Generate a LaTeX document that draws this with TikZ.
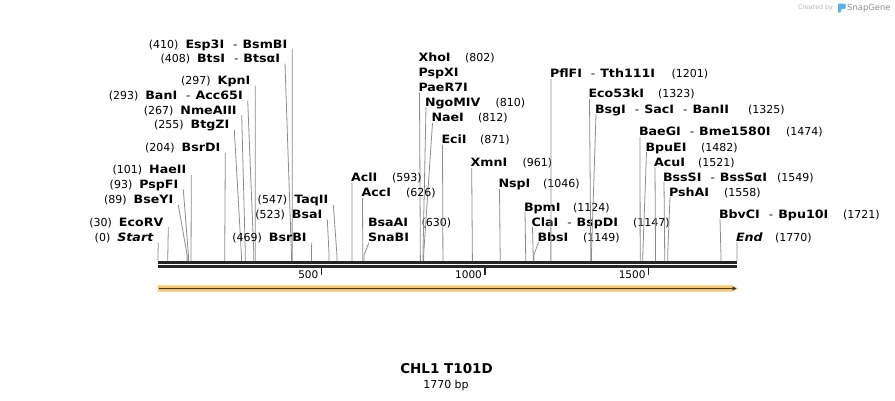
\documentclass[tikz,border=0pt]{standalone}
\usepackage{fontspec}
\setmainfont{DejaVu Sans}
\newfontfamily\nmfont{DejaVu Sans}[FakeStretch=1.1]
\usetikzlibrary{arrows.meta}
\definecolor{cutgrey}{HTML}{8C8C8C}
\definecolor{barblack}{HTML}{262626}
\definecolor{bandorange}{HTML}{FAC56B}
\definecolor{arrowdark}{HTML}{3A3834}
\definecolor{logogrey}{HTML}{B4B4B4}
\definecolor{logogreyb}{HTML}{8E8E8E}
\definecolor{logoblue}{HTML}{55B4E8}
\newcommand\sepx{\hspace{9pt}{\mdseries\fontsize{11}{13}\selectfont -}\hspace{5pt}}
\newcommand\cutline[4]{%
  \coordinate (#1-t) at (#2,#3);
  \coordinate (#1-k) at ({158+#4*0.327119},255);
  \coordinate (#1-s) at ({158+#4*0.327119},261);
  \draw[cut] (#1-t) -- (#1-k) -- (#1-s);}
% left label: id, line x, y centre, name, position
\newcommand\labL[5]{%
  \node[nm, anchor=base east] (#1) at (#2-5,#3+4.3) {#4};
  \node[num, anchor=base east] (#1-n) at ([xshift=-7pt]#1.base west) {(#5)};
  \cutline{#1}{#2}{#3+5.5}{#5}}
% right label: id, line x, y centre, name, number x, position
\newcommand\labR[6]{%
  \node[nm, anchor=base west] (#1) at (#2-1,#3+4.3) {#4};
  \node[num, anchor=base west] (#1-n) at (#5,#3+4.3) {(#6)};
  \cutline{#1}{#2}{#3+5.5}{#6}}
\begin{document}
\begin{tikzpicture}[x=1pt,y=-1pt,
  num/.style={font=\fontsize{11}{13}\selectfont, inner sep=0pt, outer sep=0pt},
  nm/.style={font=\nmfont\bfseries\fontsize{11.5}{13}\selectfont, inner sep=0pt, outer sep=0pt},
  cut/.style={draw=cutgrey, line width=0.8pt},
  ticklbl/.style={font=\fontsize{10.5}{12}\selectfont, inner sep=0pt, anchor=base east}]
\useasboundingbox (0,0) rectangle (895,400);

% sequence bars and ruler
\draw[barblack, line width=3pt] (158,262.5) -- (737,262.5);
\draw[barblack, line width=2.3pt] (158,266.5) -- (737,266.5);
\foreach \p/\t in {500/500,1000/1000,1500/1500}{
  \draw[barblack, line width=1.5pt] ({158+\p*0.327119},267) -- ({158+\p*0.327119},274.5);
  \node[ticklbl] (tick\p) at ({158+\p*0.327119-3},278) {\t};
}

% feature arrow
\fill[bandorange] (157.5,285.3) -- (731.5,285.3) -- (738.5,288.5) -- (731.5,291.7) -- (157.5,291.7) -- cycle;
\draw[arrowdark, line width=1.3pt, -{Triangle[length=4pt,width=4pt]}] (159,288.5) -- (736.5,288.5);

% left-hand labels
\labL{esp}{292.3}{43.7}{Esp3I\sepx BsmBI}{410}
\labL{bts}{285}{58}{BtsI\sepx BtsαI}{408}
\labL{kpn}{255.3}{80}{KpnI}{297}
\labL{ban}{247.7}{95}{BanI\sepx Acc65I}{293}
\labL{nme}{241.7}{109.7}{NmeAIII}{267}
\labL{btg}{234.3}{124.3}{BtgZI}{255}
\labL{bsrd}{225.3}{147.3}{BsrDI}{204}
\labL{hae}{191.3}{169.3}{HaeII}{101}
\labL{pspf}{183.3}{184}{PspFI}{93}
\labL{bsey}{178.3}{199.5}{BseYI}{89}
\labL{ecorv}{168.3}{221.7}{EcoRV}{30}
\labL{start}{158.3}{237}{\itshape Start}{0}
\labL{taq}{333.3}{199.3}{TaqII}{547}
\labL{bsai}{327.3}{214}{BsaI}{523}
\labL{bsrb}{311.7}{237}{BsrBI}{469}

% XhoI stack
\node[nm, anchor=base west] (xho) at (418.5,61) {XhoI};
\node[num, anchor=base west] (xho-n) at (465,61) {(802)};
\node[nm, anchor=base west] (pspx) at (418.5,76) {PspXI};
\node[nm, anchor=base west] (pae) at (418.5,91) {PaeR7I};
\cutline{pae}{419.5}{92.5}{802}

% BsaAI / SnaBI stack
\node[nm, anchor=base west] (bsaa) at (368,226) {BsaAI};
\node[num, anchor=base west] (bsaa-n) at (421.7,226) {(630)};
\node[nm, anchor=base west] (sna) at (368,241) {SnaBI};
\cutline{sna}{369}{242.5}{630}

% right-hand labels
\labR{ngo}{426}{101.7}{NgoMIV}{495.7}{810}
\labR{nae}{432.5}{117.3}{NaeI}{478}{812}
\labR{eci}{442.5}{139.3}{EciI}{480}{871}
\labR{xmn}{471.7}{162.5}{XmnI}{522.7}{961}
\labR{nsp}{499.5}{183.3}{NspI}{543}{1046}
\labR{bpm}{525}{206.7}{BpmI}{573}{1124}
\labR{cla}{532.5}{221.7}{ClaI\sepx BspDI}{633}{1147}
\labR{bbs}{538.5}{236.7}{BbsI}{583}{1149}
\labR{acl}{352}{177.3}{AclI}{392}{593}
\labR{acc}{362.5}{192.3}{AccI}{406}{626}
\labR{pfl}{551}{73}{PflFI\sepx Tth111I}{671.7}{1201}
\labR{ecok}{589.5}{93.5}{Eco53kI}{658}{1323}
\labR{bsg}{596}{109}{BsgI\sepx SacI\sepx BanII}{748}{1325}
\labR{bae}{640}{131.5}{BaeGI\sepx Bme1580I}{786}{1474}
\labR{bpue}{646.5}{146.7}{BpuEI}{701}{1482}
\labR{acu}{655}{161.7}{AcuI}{698}{1521}
\labR{bsss}{664}{176.7}{BssSI\sepx BssSαI}{777}{1549}
\labR{psh}{670}{191.7}{PshAI}{724}{1558}
\labR{bbv}{720}{213.7}{BbvCI\sepx Bpu10I}{843}{1721}
\labR{end}{737}{236.7}{\itshape End}{775}{1770}

% title
\node[font=\bfseries\fontsize{13.5}{16}\selectfont, inner sep=0pt, anchor=base] (title) at (446.5,373.2) {CHL1 T101D};
\node[font=\fontsize{11}{13}\selectfont, inner sep=0pt, anchor=base] (len) at (446,388) {1770 bp};

% logo
\node[font=\fontsize{6.3}{7}\selectfont, text=logogrey, inner sep=0pt, anchor=base west] (createdby) at (798,9.6) {Created by};
\fill[logoblue] (838,3.5) -- (845.5,3.5) -- (845.5,8.5) -- (841.5,9.2) -- (840.5,12.5) -- (838,12.5) -- cycle;
\node[font=\fontsize{8.4}{9}\selectfont, text=logogreyb, inner sep=0pt, anchor=base west] (snapgene) at (847,10.3) {SnapGene};
\end{tikzpicture}
\end{document}
